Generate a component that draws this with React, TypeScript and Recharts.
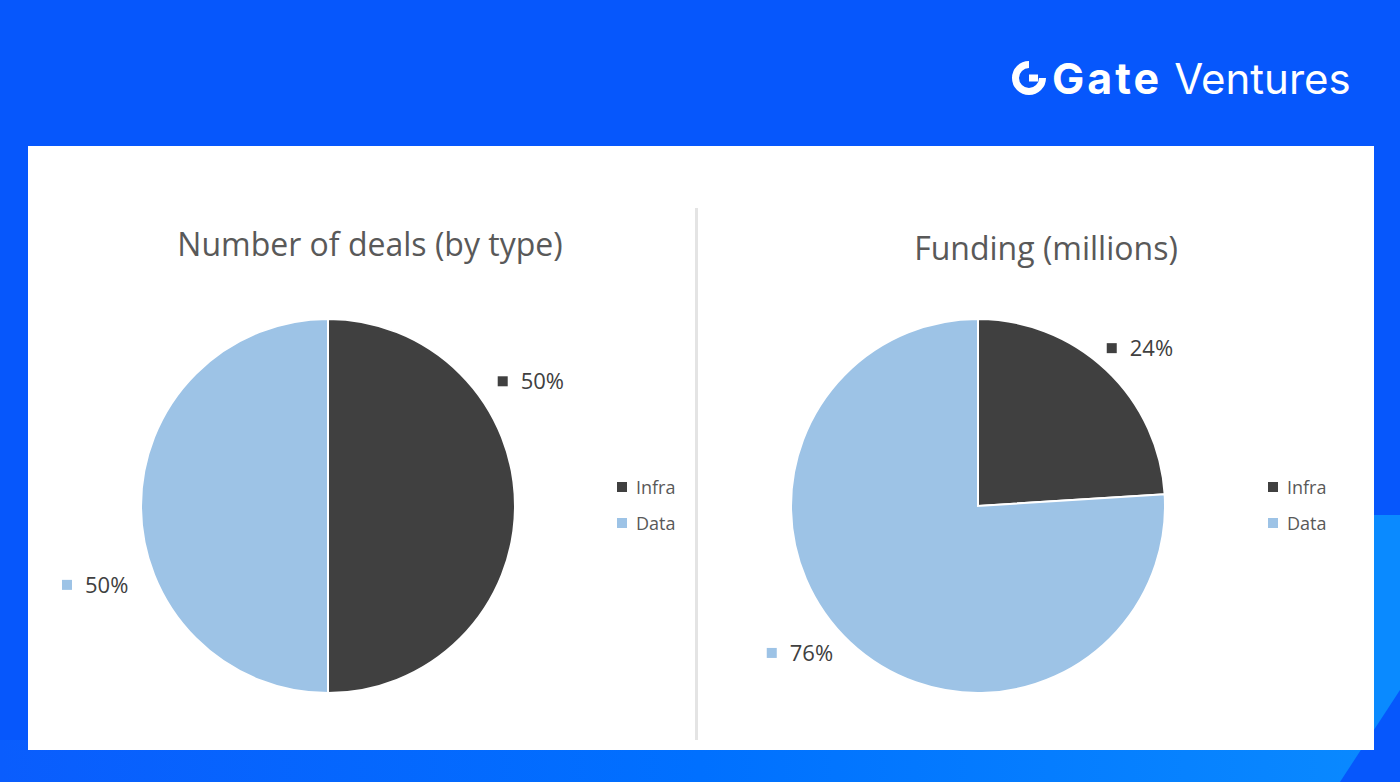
import React from "react";
import { PieChart, Pie, Cell, Legend } from "recharts";

const categories = ["Infra", "Data"];
const dealsValues = [50, 50];
const fundingValues = [24, 76];
const titles = ["Number of deals (by type)", "Funding (millions)"];

const COLORS = ["#404040", "#9dc3e6"];
const FONT = "'Open Sans', 'Noto Sans', sans-serif";

type LabelPlace = { angle: number; dist: number };

const makeLabel = (places: LabelPlace[]) => (props: any) => {
  const { cx, cy, index, percent } = props;
  const p = places[index];
  const rad = (p.angle * Math.PI) / 180;
  const x = cx + p.dist * Math.cos(rad);
  const y = cy - p.dist * Math.sin(rad);
  const pct = Math.round((percent ?? 0) * 100);
  return (
    <g key={`lbl-${index}`}>
      <rect x={x - 33} y={y - 5} width={10} height={10} fill={COLORS[index]} />
      <text
        x={x - 10}
        y={y}
        dy="0.35em"
        fill="#404040"
        fontSize={22}
        fontFamily={FONT}
        textAnchor="start"
      >
        {`${pct}%`}
      </text>
    </g>
  );
};

const LegendBox = () => (
  <div style={{ fontFamily: FONT, fontSize: 18, color: "#595959" }}>
    {categories.map((c, i) => (
      <div key={c} style={{ display: "flex", alignItems: "center", height: 36 }}>
        <span
          style={{
            display: "inline-block",
            width: 10,
            height: 10,
            background: COLORS[i],
            marginRight: 9,
          }}
        />
        <span>{c}</span>
      </div>
    ))}
  </div>
);

type ChartProps = {
  values: number[];
  title: string;
  left: number;
  width: number;
  cx: number;
  titleX: number;
  titleY: number;
  legendX: number;
  places: LabelPlace[];
};

const OnePie = ({ values, title, left, width, cx, titleX, titleY, legendX, places }: ChartProps) => {
  const data = categories.map((name, i) => ({ name, value: values[i] }));
  return (
    <div style={{ position: "absolute", left, top: 146, width, height: 604 }}>
      <div
        style={{
          position: "absolute",
          left: titleX - 300,
          width: 600,
          top: titleY,
          textAlign: "center",
          fontFamily: FONT,
          fontSize: 32,
          color: "#595959",
          lineHeight: "40px",
        }}
      >
        {title}
      </div>
      <PieChart width={width} height={604} style={{ position: "absolute", left: 0, top: 0 }}>
        <Pie
          data={data}
          dataKey="value"
          nameKey="name"
          cx={cx}
          cy={355}
          outerRadius={187}
          startAngle={90}
          endAngle={-270}
          stroke="#ffffff"
          strokeWidth={2}
          isAnimationActive={false}
          labelLine={false}
          label={makeLabel(places)}
        >
          {data.map((d, i) => (
            <Cell key={d.name} fill={COLORS[i]} />
          ))}
        </Pie>
        <Legend
          content={() => <LegendBox />}
          wrapperStyle={{ position: "absolute", left: legendX, top: 323, width: 90 }}
        />
      </PieChart>
    </div>
  );
};

const LogoIcon = () => (
  <svg width={36} height={36} viewBox="0 0 36 36" style={{ display: "block" }}>
    <path
      d="M18 4.5 A13.5 13.5 0 1 0 31.5 18"
      fill="none"
      stroke="#ffffff"
      strokeWidth={7}
    />
    <rect x={18} y={14.5} width={9} height={7} fill="#ffffff" />
  </svg>
);

export default function App() {
  return (
    <div
      style={{
        position: "fixed",
        left: 0,
        top: 0,
        width: 1400,
        height: 782,
        background: "#0657fc",
        overflow: "hidden",
      }}
    >
      <div
        style={{
          position: "absolute",
          left: 0,
          top: 740,
          width: 1400,
          height: 42,
          background: "linear-gradient(90deg, #0a5dfd 0%, #0070ff 50%, #0a8aff 100%)",
        }}
      />
      <div
        style={{
          position: "absolute",
          left: 1360,
          top: 515,
          width: 40,
          height: 267,
          background: "#0a8aff",
        }}
      />
      <div
        style={{
          position: "absolute",
          left: 0,
          top: 0,
          width: 1400,
          height: 782,
          background: "#0657fc",
          clipPath: "polygon(1400px 690px, 1400px 782px, 1340px 782px)",
        }}
      />
      <div
        style={{
          position: "absolute",
          left: 1011,
          top: 54,
          display: "flex",
          alignItems: "center",
          color: "#ffffff",
          whiteSpace: "nowrap",
          height: 48,
        }}
      >
        <LogoIcon />
        <span
          style={{
            fontFamily: "'Inter', 'Noto Sans', sans-serif",
            fontWeight: 700,
            fontSize: 43,
            letterSpacing: 3,
            marginLeft: 5,
          }}
        >
          Gate
        </span>
        <span
          style={{
            fontFamily: "'Inter', 'Noto Sans', sans-serif",
            fontWeight: 400,
            fontSize: 42,
            marginLeft: 12,
          }}
        >
          Ventures
        </span>
      </div>
      <div
        style={{
          position: "absolute",
          left: 28,
          top: 146,
          width: 1346,
          height: 604,
          background: "#ffffff",
        }}
      />
      <div
        style={{
          position: "absolute",
          left: 695,
          top: 208,
          width: 3,
          height: 532,
          background: "#e4e4e4",
        }}
      />
      <OnePie
        values={dealsValues}
        title={titles[0]}
        left={28}
        width={668}
        cx={295}
        titleX={342}
        titleY={78}
        legendX={589}
        places={[
          { angle: 31.6, dist: 238 },
          { angle: 198.7, dist: 246 },
        ]}
      />
      <OnePie
        values={fundingValues}
        title={titles[1]}
        left={696}
        width={678}
        cx={277}
        titleX={350}
        titleY={82}
        legendX={572}
        places={[
          { angle: 44.3, dist: 226 },
          { angle: 219.5, dist: 231 },
        ]}
      />
    </div>
  );
}
